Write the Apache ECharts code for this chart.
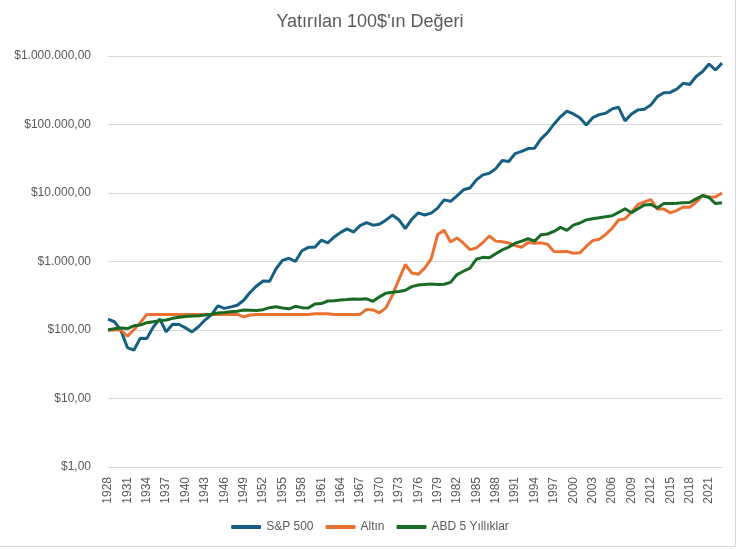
<!DOCTYPE html>
<html><head><meta charset="utf-8">
<script src="https://cdn.jsdelivr.net/npm/echarts@6/dist/echarts.min.js"></script>
<style>html,body{margin:0;padding:0;background:#fff}#c{width:740px;height:549px}</style>
</head><body><div id="c"></div>
<script>
const years = ['1928','1929','1930','1931','1932','1933','1934','1935','1936','1937','1938','1939','1940','1941','1942','1943','1944','1945','1946','1947','1948','1949','1950','1951','1952','1953','1954','1955','1956','1957','1958','1959','1960','1961','1962','1963','1964','1965','1966','1967','1968','1969','1970','1971','1972','1973','1974','1975','1976','1977','1978','1979','1980','1981','1982','1983','1984','1985','1986','1987','1988','1989','1990','1991','1992','1993','1994','1995','1996','1997','1998','1999','2000','2001','2002','2003','2004','2005','2006','2007','2008','2009','2010','2011','2012','2013','2014','2015','2016','2017','2018','2019','2020','2021','2022','2023'];

const sp500 = [143.8,131.9,98.8,55.5,50.7,76.0,75.1,110.2,145.4,94.0,
121.5,120.2,107.4,93.7,111.6,139.6,166.1,225.7,206.6,217.4,
229.8,271.8,355.6,439.8,519.6,513.3,783.1,1038,1116,998.9,
1436,1609,1614,2044,1864,2286,2661,2991,2693,3334,
3694,3390,3510,4009,4762,4080,3023,4142,5129,4771,
5082,6023,7935,7562,9105,11140,11825,15519,18388,19456,
22674,29812,28900,37637,40456,44489,45081,61851,75878,100994,
129616,156693,142544,125653,98047,125853,139370,146102,168908,178164,
113045,142369,163468,166901,193422,255607,290165,294169,328793,399845,
382932,502445,592986,761809,624607,787380];

const gold = [100,100.5,100,81,101,128,169,169,169,169,
169,169,169,169,169,169,169,169,169,169,
169,155,166,169,169,169,169,169,169,169,
169,169,172,172,172,169,169,169,169,169,
200,196,178,210,320,545,905,680,650,800,
1093,2477,2853,1923,2210,1850,1492,1582,1891,2354,
1984,1940,1868,1708,1611,1895,1854,1872,1786,1404,
1392,1404,1319,1338,1658,2019,2107,2482,3058,4034,
4208,5261,6800,7407,8019,5827,5835,5128,5544,6246,
6200,7368,9132,8737,8768,9976];

const t5 = [100,104,107,105,115,118,128,132,136,140,
148,153,158,160,162,165,170,177,180,184,
188,196,195,192,198,212,218,210,204,222,
212,210,240,243,265,268,275,278,283,282,
285,262,305,345,355,365,380,430,455,462,
468,462,465,495,645,720,800,1080,1150,1130,
1300,1480,1620,1850,1980,2150,1980,2460,2520,2750,
3150,2850,3400,3650,4050,4200,4350,4500,4650,5200,
5900,5150,5900,6700,6800,6050,7000,7050,7100,7200,
7250,8200,9200,8600,7000,7200];

const names = ['S&P 500','Altın','ABD 5 Yıllıklar'];
const colors = ['#156082','#E97132','#196B24'];

function fmt(v){
  const s = Math.round(v).toString().replace(/\B(?=(\d{3})+(?!\d))/g,'.');
  return '$' + s + ',00';
}

const chart = echarts.init(document.getElementById('c'), null, {renderer:'canvas'});
chart.setOption({
  animation:false,
  backgroundColor:'#fff',
  title:{text:"Yatırılan 100$'ın Değeri", left:'center', top:8,
    textStyle:{fontFamily:'Liberation Sans', fontSize:18, fontWeight:'normal', color:'#595959'}},
  graphic:[{type:'rect', shape:{x:-0.5,y:-0.5,width:736,height:547},
    style:{fill:'none', stroke:'#d9d9d9', lineWidth:1}, silent:true}],
  grid:{left:108, right:18, top:56, bottom:82, containLabel:false},
  legend:{bottom:11, left:'center', itemWidth:30, itemHeight:4, itemGap:12,
    icon:'roundRect',
    textStyle:{fontFamily:'Liberation Sans', fontSize:12, color:'#595959'},
    data:names},
  xAxis:{type:'category', data:years, boundaryGap:false,
    axisLine:{show:true, lineStyle:{color:'#d9d9d9'}},
    axisTick:{show:false},
    axisLabel:{rotate:90, interval:2, color:'#595959', fontSize:12, fontFamily:'Liberation Sans', margin:10},
    splitLine:{show:false}},
  yAxis:{type:'log', logBase:10, min:1, max:1000000,
    axisLine:{show:false}, axisTick:{show:false},
    splitLine:{show:true, lineStyle:{color:'#d9d9d9', width:1}},
    axisLabel:{formatter:fmt, color:'#595959', fontSize:12, fontFamily:'Liberation Sans', margin:17}},
  series:[
    {name:names[0], type:'line', data:sp500, symbol:'none', lineStyle:{width:3, color:colors[0]}, itemStyle:{color:colors[0]}},
    {name:names[1], type:'line', data:gold, symbol:'none', lineStyle:{width:3, color:colors[1]}, itemStyle:{color:colors[1]}},
    {name:names[2], type:'line', data:t5, symbol:'none', lineStyle:{width:3, color:colors[2]}, itemStyle:{color:colors[2]}}
  ]
});
</script></body></html>
